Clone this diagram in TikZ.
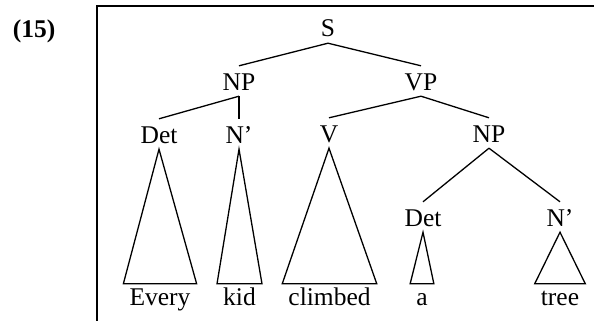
\documentclass[tikz,border=0pt]{standalone}
\usepackage{fontspec}
\setmainfont{Liberation Serif}
\begin{document}
\begin{tikzpicture}[x=1pt,y=-1pt,
  every node/.style={font=\fontsize{25.5}{30}\selectfont},
  cat/.style={anchor=base,inner xsep=2pt,inner ysep=0pt,text height=24pt,text depth=6pt},
  word/.style={anchor=base,inner xsep=6pt,inner ysep=0pt,text height=21pt,text depth=0pt},
  branch/.style={line width=1.3pt},
  frame/.style={line width=1.8pt}]
\useasboundingbox (0,0) rectangle (594,321);

% example number and frame
\node[anchor=base,font=\fontsize{25.5}{30}\selectfont\bfseries] (num) at (34,37.5) {(15)};
\coordinate (fbl) at (97,321);
\coordinate (ftl) at (97,6);
\coordinate (ftr) at (594,6);
\draw[frame] (fbl) -- (ftl) -- (ftr);

% category labels
\node[cat] (S)    at (328,37)  {S};
\node[cat] (NP)   at (239,90)  {NP};
\node[cat] (VP)   at (421,90)  {VP};
\node[cat] (Det)  at (159,143) {Det};
\node[cat] (Nb)   at (239,143) {N'};
\node[cat] (V)    at (329,142) {V};
\node[cat] (NPo)  at (489,142) {NP};
\node[cat] (Deto) at (423,226) {Det};
\node[cat] (Nbo)  at (560,226) {N'};

% words
\node[word] (every)   at (160,305) {Every};
\node[word] (kid)     at (239.5,305) {kid};
\node[word] (climbed) at (329.5,305) {climbed};
\node[word] (a)       at (422,305) {a};
\node[word] (tree)    at (560,305) {tree};

% branches
\draw[branch] (S.south) -- (NP.north);
\draw[branch] (S.south) -- (VP.north);
\draw[branch] (NP.south) -- (Det.north);
\draw[branch] (NP.south) -- (Nb.north);
\draw[branch] (VP.south) -- (V.north);
\draw[branch] (VP.south) -- (NPo.north);
\draw[branch] (NPo.south) -- (Deto.north);
\draw[branch] (NPo.south) -- (Nbo.north);

% triangles over the words
\draw[branch,line join=miter] (Det.south) -- (every.north west) -- (every.north east) -- cycle;
\draw[branch,line join=miter] (Nb.south) -- (kid.north west) -- (kid.north east) -- cycle;
\draw[branch,line join=miter] (V.south) -- (climbed.north west) -- (climbed.north east) -- cycle;
\draw[branch,line join=miter] (Deto.south) -- (a.north west) -- (a.north east) -- cycle;
\draw[branch,line join=miter] (Nbo.south) -- (tree.north west) -- (tree.north east) -- cycle;
\end{tikzpicture}
\end{document}
